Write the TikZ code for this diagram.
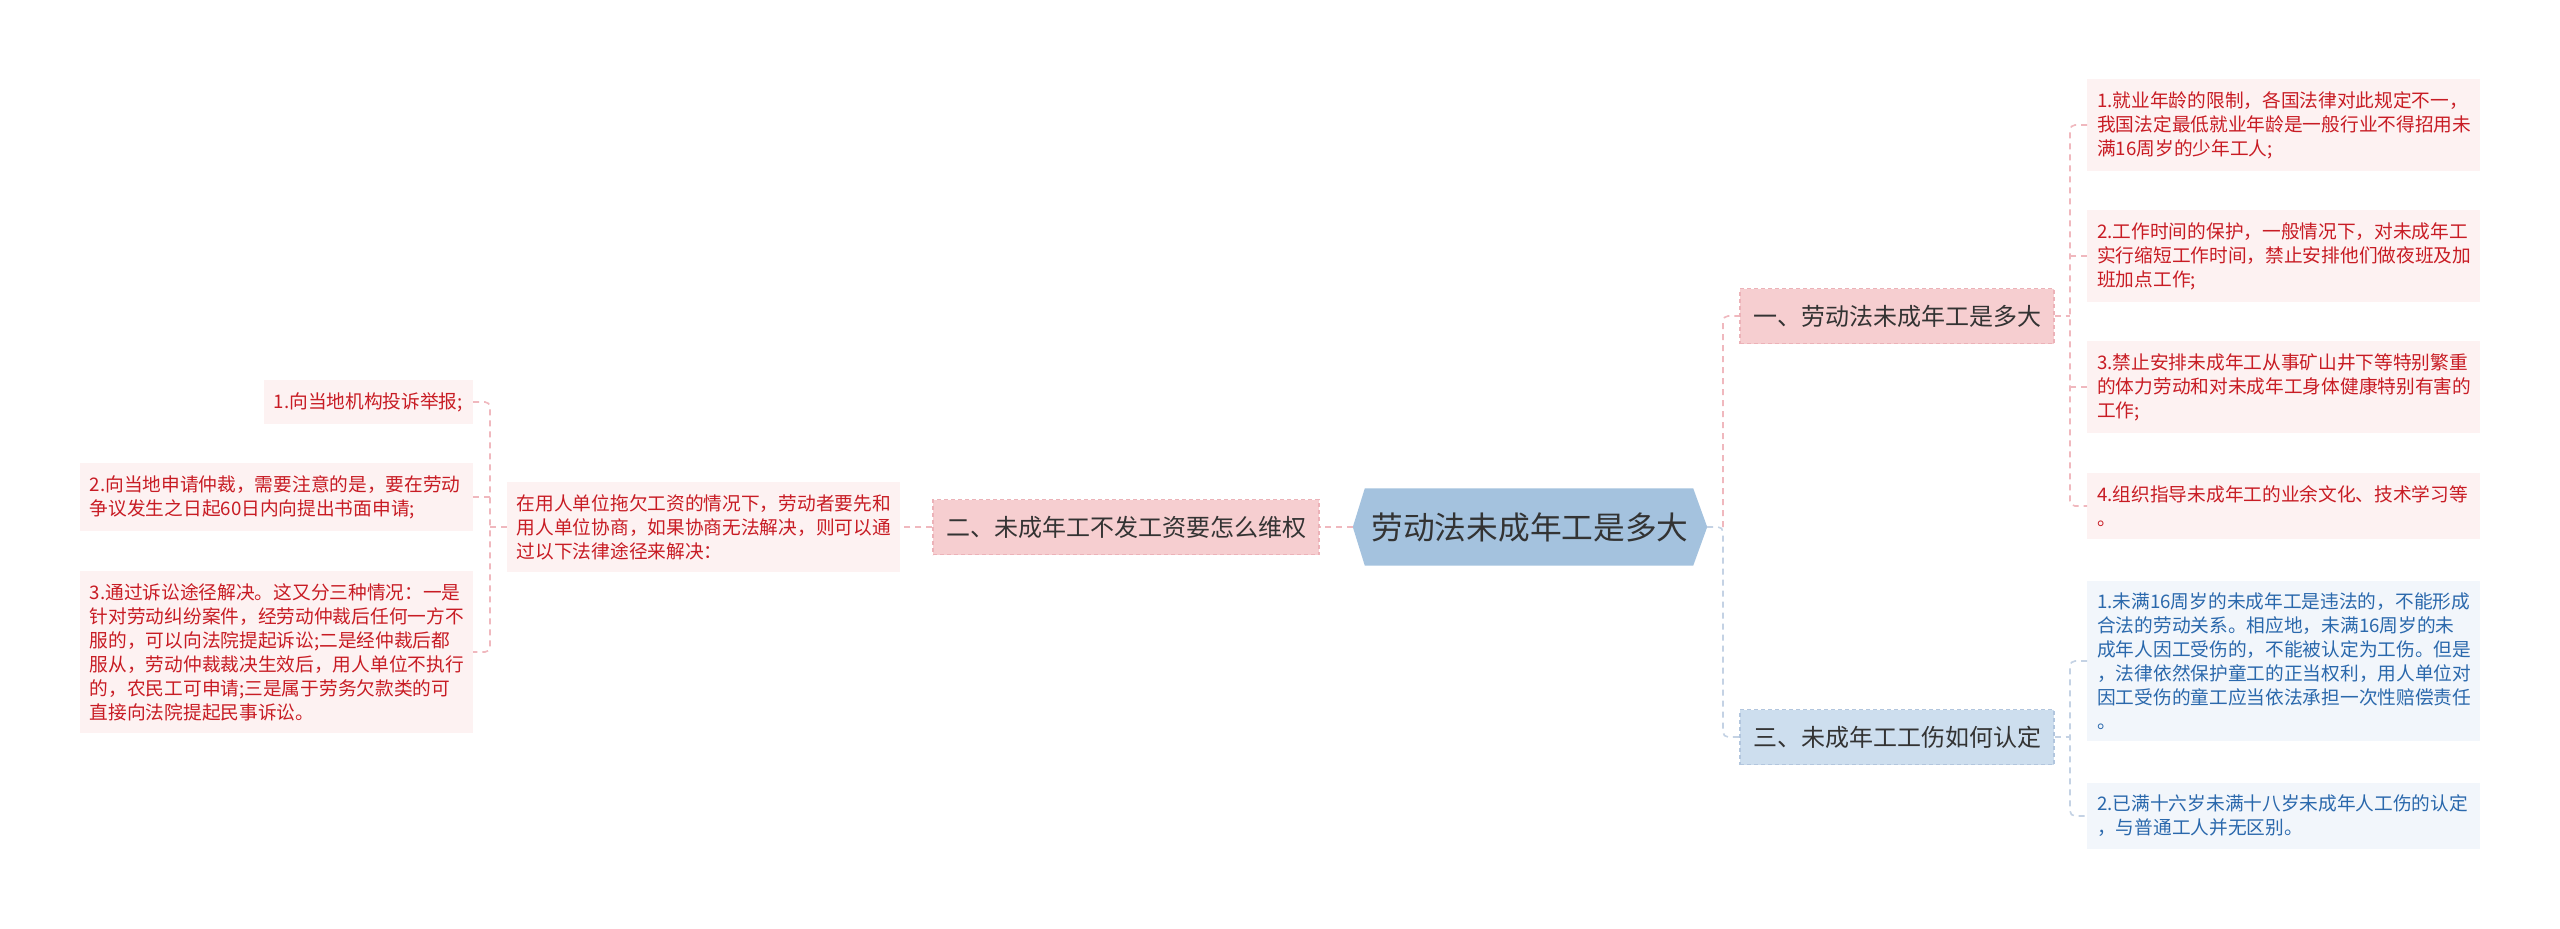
\documentclass[tikz,border=0pt]{standalone}
\usepackage{fontspec}
\newfontfamily\cjk{Noto Sans CJK SC}
\usepackage{tikz}
\usetikzlibrary{calc,backgrounds}

\definecolor{rootblue}{RGB}{164,194,222}
\definecolor{rootink}{RGB}{51,51,51}
\definecolor{redfill}{RGB}{246,206,208}
\definecolor{redrim}{RGB}{236,178,184}
\definecolor{bluefill}{RGB}{205,222,238}
\definecolor{bluerim}{RGB}{178,198,222}
\definecolor{redleaf}{RGB}{253,242,242}
\definecolor{redink}{RGB}{200,28,36}
\definecolor{blueleaf}{RGB}{242,246,251}
\definecolor{blueink}{RGB}{42,104,172}
\definecolor{redwire}{RGB}{240,184,190}
\definecolor{bluewire}{RGB}{196,210,228}

\begin{document}
\begin{tikzpicture}[x=1pt,y=-1pt,
  rootnode/.style={font=\cjk\fontsize{31.7}{38}\selectfont, text=rootink, minimum width=354pt, minimum height=77pt, inner sep=0pt},
  redtopic/.style={draw=redrim, line width=1.2pt, dash pattern=on 4pt off 3pt, fill=redfill, font=\cjk\fontsize{24}{28}\selectfont, text=rootink, inner xsep=13pt, minimum height=55pt},
  bluetopic/.style={redtopic, draw=bluerim, fill=bluefill},
  redleafnode/.style={fill=redleaf, text=redink, font=\cjk\fontsize{18.7}{24}\selectfont, align=left, inner xsep=10pt, inner ysep=12pt},
  blueleafnode/.style={redleafnode, fill=blueleaf, text=blueink},
  wide/.style={text width=373pt},
  redline/.style={draw=redwire, line width=1.6pt, dash pattern=on 6pt off 5pt, rounded corners=5pt},
  blueline/.style={redline, draw=bluewire}
]

% Canvas
\useasboundingbox (0,0) rectangle (2560,929);
\begin{scope}[on background layer]
\fill[white] (0,0) rectangle (2560,929);
\end{scope}

% Central topic (hexagon)
\node[rootnode] (root) at (1530,527) {劳动法未成年工是多大};
\begin{scope}[on background layer]
\fill[rootblue] (root.west) -- ($(root.north west)+(12,0)$) -- ($(root.north east)+(-14,0)$)
  -- (root.east) -- ($(root.south east)+(-14,0)$) -- ($(root.south west)+(12,0)$) -- cycle;
\end{scope}

% Main topics
\node[redtopic] (b1) at (1897,316) {一、劳动法未成年工是多大};
\node[redtopic] (b2) at (1126,527) {二、未成年工不发工资要怎么维权};
\node[bluetopic] (b3) at (1897,737) {三、未成年工工伤如何认定};

% Right leaves, topic one
\node[redleafnode,wide,anchor=west] (a1) at (2087,125) {1.就业年龄的限制，各国法律对此规定不一，\\我国法定最低就业年龄是一般行业不得招用未\\满16周岁的少年工人;};
\node[redleafnode,wide,anchor=west] (a2) at (2087,256) {2.工作时间的保护，一般情况下，对未成年工\\实行缩短工作时间，禁止安排他们做夜班及加\\班加点工作;};
\node[redleafnode,wide,anchor=west] (a3) at (2087,387) {3.禁止安排未成年工从事矿山井下等特别繁重\\的体力劳动和对未成年工身体健康特别有害的\\工作;};
\node[redleafnode,wide,anchor=west] (a4) at (2087,506) {4.组织指导未成年工的业余文化、技术学习等\\。};

% Right leaves, topic three
\node[blueleafnode,wide,anchor=west] (c1) at (2087,661) {1.未满16周岁的未成年工是违法的，不能形成\\合法的劳动关系。相应地，未满16周岁的未\\成年人因工受伤的，不能被认定为工伤。但是\\，法律依然保护童工的正当权利，用人单位对\\因工受伤的童工应当依法承担一次性赔偿责任\\。};
\node[blueleafnode,wide,anchor=west] (c2) at (2087,816) {2.已满十六岁未满十八岁未成年人工伤的认定\\，与普通工人并无区别。};

% Left side, topic two
\node[redleafnode,wide,anchor=east] (desc) at (900,527) {在用人单位拖欠工资的情况下，劳动者要先和\\用人单位协商，如果协商无法解决，则可以通\\过以下法律途径来解决：};
\node[redleafnode,anchor=east] (l1) at (473,402) {1.向当地机构投诉举报;};
\node[redleafnode,wide,anchor=east] (l2) at (473,497) {2.向当地申请仲裁，需要注意的是，要在劳动\\争议发生之日起60日内向提出书面申请;};
\node[redleafnode,wide,anchor=east] (l3) at (473,652) {3.通过诉讼途径解决。这又分三种情况：一是\\针对劳动纠纷案件，经劳动仲裁后任何一方不\\服的，可以向法院提起诉讼;二是经仲裁后都\\服从，劳动仲裁裁决生效后，用人单位不执行\\的，农民工可申请;三是属于劳务欠款类的可\\直接向法院提起民事诉讼。};

% Bus points
\coordinate (lbus) at (490,527);
\coordinate (rbus) at (1723,527);
\coordinate (abus) at (2070,316);
\coordinate (cbus) at (2070,737);

% Left connectors
\draw[redline] (root.west) -- (b2.east);
\draw[redline] (b2.west) -- (desc.east);
\draw[redline] (desc.west) -- (lbus);
\draw[redline] (l1.east) -| (lbus) |- (l3.east);
\draw[redline] (l2.east) -- (l2.east -| lbus);

% Right connectors
\draw[redline] (rbus) |- (b1.west);
\draw[blueline] (root.east) -- (rbus) |- (b3.west);
\draw[redline] (b1.east) -- (abus);
\draw[redline] (a1.west) -| (abus) |- (a4.west);
\draw[redline] (a2.west) -- (a2.west -| abus);
\draw[redline] (a3.west) -- (a3.west -| abus);
\draw[blueline] (b3.east) -- (cbus);
\draw[blueline] (c1.west) -| (cbus) |- (c2.west);

\end{tikzpicture}
\end{document}
